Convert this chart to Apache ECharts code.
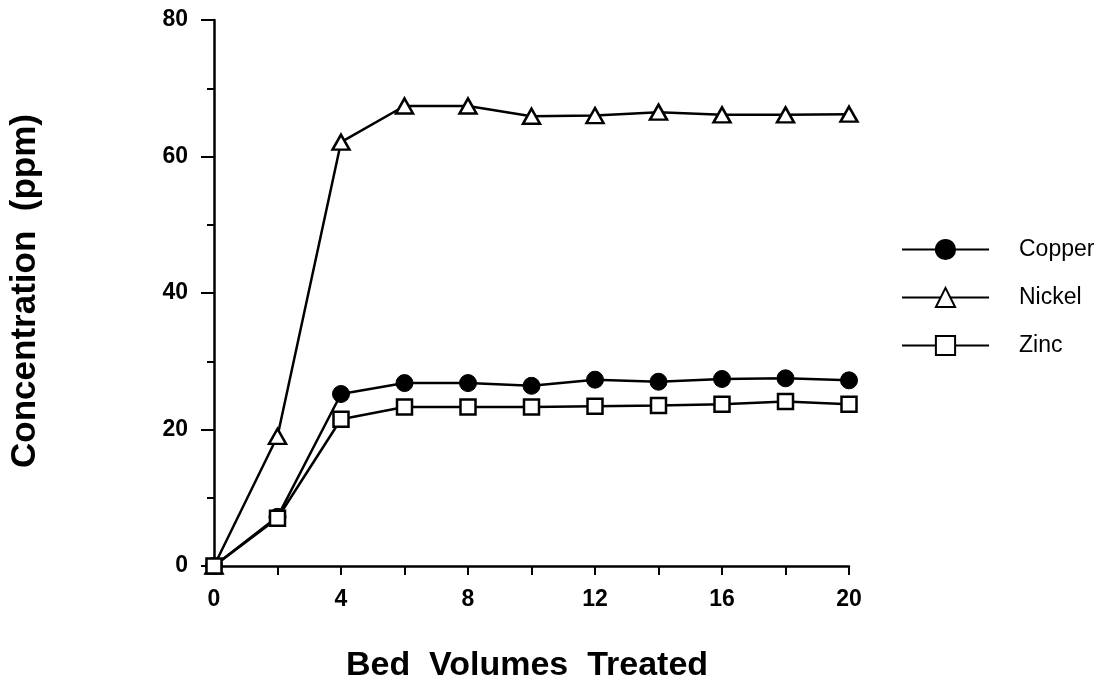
<!DOCTYPE html>
<html><head><meta charset="utf-8">
<script src="https://cdn.jsdelivr.net/npm/echarts@6/dist/echarts.min.js"></script>
<style>html,body{margin:0;padding:0;background:#fff}#c{width:1104px;height:682px}</style>
</head><body><div id="c"></div>
<script>
var bedVolumes = [0, 2, 4, 6, 8, 10, 12, 14, 16, 18, 20];
var copper = [0, 7.2, 25.2, 26.8, 26.8, 26.4, 27.3, 27.0, 27.4, 27.5, 27.2];
var nickel = [0, 19.0, 62.1, 67.4, 67.4, 65.9, 66.0, 66.5, 66.1, 66.1, 66.2];
var zinc   = [0, 7.0, 21.5, 23.3, 23.3, 23.3, 23.4, 23.5, 23.7, 24.1, 23.7];
var xTitle = 'Bed  Volumes  Treated';
var yTitle = 'Concentration  (ppm)';
var seriesNames = ['Copper', 'Nickel', 'Zinc'];

function pairs(v){ return bedVolumes.map(function(x,i){ return [x, v[i]]; }); }
var FONT = '"Liberation Sans", Arial, Helvetica, sans-serif';
var chart = echarts.init(document.getElementById('c'));
var lineStyle = {color:'#000', width:2.5};
chart.setOption({
  animation:false,
  backgroundColor:'#fff',
  grid:{left:214, right:255, top:20, bottom:116},
  xAxis:{type:'value', min:0, max:20, interval:4,
    axisLine:{lineStyle:{color:'#000', width:2.5}},
    axisTick:{show:true, length:9, lineStyle:{color:'#000', width:2}},
    minorTick:{show:true, splitNumber:2, length:9, lineStyle:{color:'#000', width:2}},
    splitLine:{show:false},
    axisLabel:{color:'#000', fontSize:23, fontWeight:'bold', fontFamily:FONT, margin:22}
  },
  yAxis:{type:'value', min:0, max:80, interval:20,
    axisLine:{show:true, lineStyle:{color:'#000', width:2.5}},
    axisTick:{show:true, length:13, lineStyle:{color:'#000', width:2}},
    minorTick:{show:true, splitNumber:2, length:7, lineStyle:{color:'#000', width:2}},
    splitLine:{show:false},
    axisLabel:{color:'#000', fontSize:23, fontWeight:'bold', fontFamily:FONT, margin:26}
  },
  legend:{orient:'vertical', left:896, top:233, itemWidth:87, itemHeight:24, itemGap:25,
    textStyle:{color:'#000', fontSize:23, fontFamily:FONT, padding:[0,0,0,25]},
    data:seriesNames},
  graphic:[
    {type:'text', x:527, y:666, style:{text:xTitle, font:'bold 34px '+FONT, fill:'#000', textAlign:'center', textVerticalAlign:'middle'}},
    {type:'text', x:25, y:291, rotation:Math.PI/2, style:{text:yTitle, font:'bold 35px '+FONT, fill:'#000', textAlign:'center', textVerticalAlign:'middle'}}
  ],
  series:[
    {name:seriesNames[0], type:'line', data:pairs(copper), symbol:'circle', symbolSize:17,
     lineStyle:lineStyle, itemStyle:{color:'#000', borderColor:'#000', borderWidth:1}, z:3},
    {name:seriesNames[1], type:'line', data:pairs(nickel), symbol:'triangle', symbolSize:[17,15],
     lineStyle:lineStyle, itemStyle:{color:'#fff', borderColor:'#000', borderWidth:2.5}, z:4},
    {name:seriesNames[2], type:'line', data:pairs(zinc), symbol:'rect', symbolSize:15,
     lineStyle:lineStyle, itemStyle:{color:'#fff', borderColor:'#000', borderWidth:2.5}, z:5}
  ]
});
</script></body></html>
